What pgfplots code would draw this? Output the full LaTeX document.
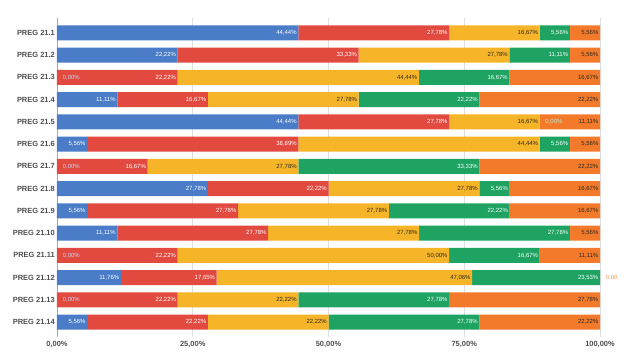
\documentclass[border=0pt]{standalone}
\usepackage{pgfplots}
\pgfplotsset{compat=1.18}
\usepackage{pgfplotstable}
\usepackage{fontspec}
\setmainfont{Liberation Sans}
\definecolor{cB}{HTML}{4A7CC7}
\definecolor{cR}{HTML}{E2493F}
\definecolor{cY}{HTML}{F6B428}
\definecolor{cG}{HTML}{1EA362}
\definecolor{cO}{HTML}{F27A2A}
\definecolor{cBz}{HTML}{C3DAF6}
\definecolor{cGz}{HTML}{BDE8D2}
\definecolor{cOz}{HTML}{EE9A55}
\definecolor{darktxt}{HTML}{2E2A24}
\definecolor{lbl}{HTML}{4F4F4F}
\pgfplotstableread{
row b r y g o
1 44.44 27.78 16.67 5.56 5.56
2 22.22 33.33 27.78 11.11 5.56
3 0 22.22 44.44 16.67 16.67
4 11.11 16.67 27.78 22.22 22.22
5 44.44 27.78 16.67 0 11.11
6 5.56 38.89 44.44 5.56 5.56
7 0 16.67 27.78 33.33 22.22
8 27.78 22.22 27.78 5.56 16.67
9 5.56 27.78 27.78 22.22 16.67
10 11.11 27.78 27.78 27.78 5.56
11 0 22.22 50.00 16.67 11.11
12 11.76 17.65 47.06 23.53 0
13 0 22.22 22.22 27.78 27.78
14 5.56 22.22 22.22 27.78 22.22
}\data
\newcommand\seglab[4]{\edef\tmpv{#1}\ifdim\tmpv pt<0.005pt\makebox[0pt][l]{\hspace*{7.5pt}\textcolor{#3}{0,00#4}}\else\textcolor{#2}{\pgfmathprintnumber[assume math mode=true,fixed,fixed zerofill,precision=2,use comma]{\tmpv}\%}\fi}
\pgfplotsset{
  common/.style={
    at={(0,0)}, anchor=south west,
    scale only axis, width=543bp, height=318bp,
    xmin=0, xmax=100, ymin=0.35, ymax=14.65, y dir=reverse,
  },
  lab/.style={only marks, mark=*, mark size=0pt, mark options={draw=none,fill=none},
    nodes near coords={\seglab{\pgfplotspointmeta}#1}},
}
\begin{document}
\begin{tikzpicture}
\useasboundingbox (-57bp,-20.5bp) rectangle (583bp,336.5bp);
\begin{axis}[
  common,
  xbar stacked, bar width=15bp,
  ytick={1,...,14},
  yticklabels={PREG 21.1,PREG 21.2,PREG 21.3,PREG 21.4,PREG 21.5,PREG 21.6,PREG 21.7,PREG 21.8,PREG 21.9,PREG 21.10,PREG 21.11,PREG 21.12,PREG 21.13,PREG 21.14},
  xtick={0,25,50,75,100},
  xticklabels={{0,00\%},{25,00\%},{50,00\%},{75,00\%},{100,00\%}},
  xmajorgrids, grid style={draw=black!13, line width=0.6pt},
  separate axis lines,
  x axis line style={draw=none},
  y axis line style={draw=black!35, line width=0.8pt},
  axis y line*=left,
  major tick length=0pt,
  yticklabel style={font=\bfseries\fontsize{7.5}{8}\selectfont, text=lbl, inner sep=2pt},
  xticklabel style={font=\bfseries\fontsize{7.5}{8}\selectfont, text=lbl, inner sep=4.5pt},
]
\addplot[fill=cB, draw=none] table[x=b,y=row]{\data};
\addplot[fill=cR, draw=none] table[x=r,y=row]{\data};
\addplot[fill=cY, draw=none] table[x=y,y=row]{\data};
\addplot[fill=cG, draw=none] table[x=g,y=row]{\data};
\addplot[fill=cO, draw=none] table[x=o,y=row]{\data};
\end{axis}
\begin{axis}[
  common, hide axis, clip=false,
  point meta=explicit symbolic,
  every node near coord/.append style={anchor=east, font=\fontsize{6}{6}\selectfont, inner sep=1.5pt},
]
\addplot[lab={{white}{cBz}{\%}}] table[x expr=\thisrow{b}, y=row, meta=b]{\data};
\addplot[lab={{white}{white}{\%}}] table[x expr=\thisrow{b}+\thisrow{r}, y=row, meta=r]{\data};
\addplot[lab={{darktxt}{darktxt}{\%}}] table[x expr=\thisrow{b}+\thisrow{r}+\thisrow{y}, y=row, meta=y]{\data};
\addplot[lab={{white}{cGz}{\%}}] table[x expr=\thisrow{b}+\thisrow{r}+\thisrow{y}+\thisrow{g}, y=row, meta=g]{\data};
\addplot[lab={{darktxt}{cOz}{}}] table[x expr=\thisrow{b}+\thisrow{r}+\thisrow{y}+\thisrow{g}+\thisrow{o}, y=row, meta=o]{\data};
\end{axis}
\end{tikzpicture}
\end{document}
